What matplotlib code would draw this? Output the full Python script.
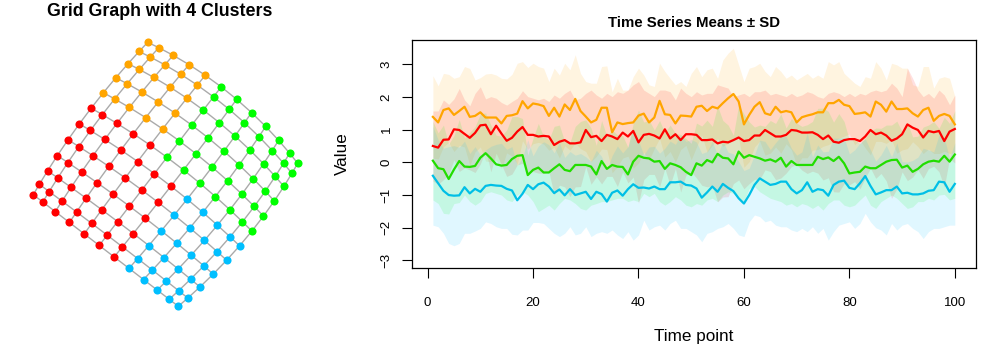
import numpy as np
import matplotlib
matplotlib.use("Agg")
import matplotlib.pyplot as plt

plt.rcParams['font.family'] = ['Liberation Sans', 'DejaVu Sans']

# ---- grid graph: 12 x 12 lattice, cluster of each node (row i, column j) ----
grid_n = 12
cluster_names = ['orange', 'red', 'green', 'blue']
node_colors = {'orange': '#FFA500', 'red': '#FF0000', 'green': '#00FF00', 'blue': '#00BFFF'}

def cluster_of(i, j):
    if i <= 4 and j <= 4:
        return 'orange'
    if i <= 5 and j >= 5:
        return 'green'
    if i >= 6 and j >= 7:
        return 'blue'
    return 'red'

# ---- time series (t = 1..100): means and the visible band edge of each ----
time_points = np.arange(1, 101)

orange_mean = [1.39, 1.22, 1.60, 1.65, 1.45, 1.57, 1.70, 1.39, 1.42, 1.53, 1.37, 1.37, 1.37, 1.19, 1.42, 1.44, 1.49, 1.87, 1.65,
               1.80, 1.77, 1.72, 1.42, 1.67, 1.40, 1.77, 1.60, 1.94, 1.57, 1.40, 1.22, 1.30, 1.67, 1.67, 0.92, 1.22, 1.17, 1.20, 1.22, 1.43,
               1.49, 1.22, 1.37, 1.88, 1.47, 1.45, 1.19, 1.43, 1.42, 1.40, 1.70, 1.73, 1.57, 1.70, 1.65, 1.81, 1.96, 2.09, 1.86, 1.16,
               1.45, 1.70, 1.84, 1.50, 1.45, 1.70, 1.53, 1.57, 1.53, 1.22, 1.38, 1.43, 1.47, 1.53, 1.53, 1.81, 1.81, 1.91, 1.76, 1.72, 1.48,
               1.50, 1.53, 1.40, 1.86, 1.76, 1.55, 1.86, 1.63, 1.63, 1.65, 1.50, 1.40, 1.60, 1.67, 1.27, 1.42, 1.48, 1.42, 1.16]
red_mean = [0.50, 0.45, 0.69, 0.70, 1.01, 0.99, 0.87, 0.75, 0.90, 1.13, 1.15, 0.86, 1.12, 0.88, 0.66, 0.75, 0.94, 1.08, 0.84,
            0.84, 0.79, 0.81, 0.79, 0.53, 0.63, 0.68, 0.58, 0.58, 0.61, 0.99, 0.77, 0.81, 0.65, 0.84, 0.79, 0.71, 0.91, 0.79, 0.96, 0.61,
            0.84, 0.87, 0.82, 0.73, 1.01, 0.73, 0.86, 0.68, 0.86, 0.86, 0.84, 0.68, 0.68, 0.70, 0.58, 0.63, 0.61, 0.68, 0.76, 0.65,
            0.68, 0.82, 0.82, 0.99, 0.89, 0.79, 0.79, 0.84, 0.99, 0.97, 0.91, 0.91, 0.92, 0.84, 0.71, 0.82, 0.63, 0.60, 0.68, 0.71, 0.71,
            0.65, 0.79, 0.99, 0.86, 0.91, 0.82, 0.66, 0.73, 0.86, 1.16, 1.06, 0.99, 0.76, 0.96, 0.92, 0.96, 0.65, 0.94, 1.02]
green_mean = [0.05, -0.18, -0.21, -0.51, -0.22, 0.04, -0.13, -0.14, -0.11, 0.14, 0.28, 0.12, -0.06, -0.10, -0.08, 0.10, 0.20, 0.22, -0.39,
              -0.23, -0.16, -0.31, -0.31, -0.18, -0.06, -0.23, -0.27, -0.08, -0.08, -0.08, -0.13, -0.37, 0.04, -0.20, -0.08, -0.13, -0.14, -0.37, 0.02, 0.20,
              0.14, 0.12, 0.02, 0.04, -0.20, -0.03, -0.08, -0.15, -0.29, -0.39, -0.03, -0.10, 0.07, 0.00, 0.26, 0.14, 0.12, -0.06, 0.33, 0.14,
              0.22, 0.17, 0.12, 0.05, 0.09, 0.02, 0.14, -0.13, 0.04, -0.08, -0.08, -0.08, -0.08, 0.17, 0.10, 0.15, 0.04, 0.17, -0.03, -0.34, -0.31,
              -0.29, -0.13, -0.18, -0.18, -0.08, 0.02, 0.07, 0.08, -0.16, -0.10, -0.29, -0.20, -0.06, 0.02, 0.05, 0.02, 0.20, 0.02, 0.24]
blue_mean = [-0.41, -0.64, -0.87, -1.00, -1.02, -1.01, -0.76, -0.95, -0.81, -0.90, -0.72, -0.69, -0.71, -0.72, -0.81, -0.86, -1.16, -0.96, -0.69,
             -0.82, -0.67, -0.62, -0.74, -0.94, -0.83, -1.01, -0.82, -1.00, -0.95, -0.90, -1.12, -0.90, -0.97, -1.20, -0.93, -0.86, -1.02, -0.82, -0.67, -0.78,
             -0.77, -0.80, -0.74, -0.82, -0.82, -0.61, -0.61, -0.59, -0.69, -0.71, -0.80, -1.08, -0.92, -0.74, -0.90, -0.66, -0.78, -0.88, -1.10, -1.26,
             -1.00, -0.69, -0.49, -0.59, -0.69, -0.66, -0.59, -0.59, -0.82, -0.95, -0.85, -0.61, -0.90, -0.82, -0.85, -1.02, -0.69, -0.59, -0.56, -0.78, -0.82,
             -0.64, -0.42, -0.72, -0.98, -0.92, -0.85, -0.85, -0.74, -0.95, -0.93, -0.98, -0.98, -0.95, -0.87, -0.85, -0.59, -0.61, -0.90, -0.66]

# upper edge (mean + sd) for orange and red, lower edge (mean - sd) for green and blue
orange_upper = [2.65, 2.34, 2.72, 2.69, 2.57, 2.62, 2.93, 2.87, 2.52, 2.59, 2.70, 2.72, 2.67, 2.57, 2.55, 2.69, 3.03, 3.08, 2.90,
                3.03, 2.93, 2.88, 2.47, 2.88, 2.67, 3.03, 2.83, 3.29, 2.72, 2.47, 2.42, 2.42, 2.93, 2.95, 2.16, 2.57, 2.21, 2.21, 2.62, 2.88,
                2.67, 2.37, 2.32, 3.03, 2.78, 2.57, 2.37, 2.47, 2.32, 2.72, 2.93, 2.62, 2.83, 2.88, 2.57, 3.13, 3.34, 3.49, 2.98, 2.47,
                2.88, 2.93, 3.03, 2.78, 2.62, 2.93, 2.78, 2.57, 2.67, 2.52, 2.62, 2.72, 2.57, 2.67, 2.57, 3.08, 2.98, 3.08, 2.72, 2.57, 2.42,
                2.32, 2.62, 2.57, 3.08, 2.88, 2.52, 3.03, 2.98, 2.88, 2.88, 2.37, 2.32, 2.93, 2.93, 2.27, 2.57, 2.62, 2.57, 2.01]
red_upper = [1.57, 1.57, 1.91, 1.77, 1.94, 2.26, 1.91, 1.73, 2.11, 2.31, 1.94, 2.01, 1.96, 1.83, 1.75, 1.86, 1.96, 2.19, 2.01,
             1.96, 1.91, 1.96, 1.86, 2.06, 1.96, 2.11, 2.21, 1.91, 1.96, 2.11, 2.21, 2.06, 1.96, 2.11, 2.01, 2.16, 2.11, 2.21, 2.37, 2.47,
             2.21, 2.11, 2.01, 2.21, 2.21, 2.16, 1.91, 2.27, 2.11, 2.01, 2.16, 2.06, 2.11, 2.11, 2.37, 2.32, 2.27, 2.01, 2.06, 2.11,
             2.01, 2.16, 2.16, 2.21, 2.06, 2.11, 2.06, 2.01, 2.11, 2.01, 2.06, 2.16, 2.11, 2.01, 1.96, 2.11, 2.16, 2.11, 2.01, 2.11, 2.01,
             2.11, 2.06, 2.16, 2.21, 2.16, 2.21, 2.42, 2.27, 2.01, 2.88, 2.57, 2.21, 2.01, 2.11, 1.96, 2.21, 2.06, 1.76, 2.06]
green_lower = [-1.15, -1.26, -1.56, -1.58, -1.26, -1.23, -1.00, -1.20, -1.31, -1.20, -0.95, -0.90, -0.95, -1.00, -1.15, -1.20, -1.00, -0.90, -1.00,
               -1.20, -1.51, -1.41, -1.31, -1.46, -1.26, -1.10, -1.15, -1.26, -1.41, -1.46, -1.31, -1.26, -1.20, -1.20, -1.15, -1.10, -1.10, -1.20, -1.15, -1.20,
               -0.95, -1.05, -0.95, -1.20, -1.31, -1.20, -1.05, -1.15, -1.31, -1.36, -1.26, -1.31, -1.15, -1.10, -1.20, -1.00, -0.90, -0.95, -1.10, -1.20,
               -0.80, -0.74, -0.90, -1.00, -1.10, -1.15, -1.20, -1.31, -1.26, -1.36, -1.26, -1.31, -1.41, -1.31, -1.46, -1.26, -1.15, -1.15, -1.31, -1.36, -1.31,
               -1.15, -1.00, -1.31, -1.41, -1.20, -1.10, -1.00, -1.10, -1.26, -1.41, -1.36, -1.20, -1.20, -1.10, -1.15, -1.00, -0.98, -1.15, -1.10]
blue_lower = [-1.92, -1.97, -2.17, -2.48, -2.55, -2.48, -2.17, -2.17, -2.10, -2.02, -1.82, -1.87, -1.97, -2.02, -2.02, -2.20, -2.22, -2.07, -2.07,
              -1.84, -1.84, -1.87, -2.02, -2.17, -2.27, -2.17, -1.97, -2.22, -2.17, -1.97, -2.27, -2.17, -2.12, -2.17, -2.07, -2.22, -2.33, -2.12, -2.38, -2.22,
              -1.77, -2.07, -1.97, -1.92, -2.07, -1.87, -1.77, -2.02, -2.02, -2.12, -2.22, -2.43, -2.17, -2.12, -2.02, -1.97, -1.87, -2.02, -2.22, -2.27,
              -1.82, -1.61, -1.66, -1.82, -1.77, -1.92, -1.97, -1.97, -2.07, -2.12, -2.02, -2.12, -1.97, -2.17, -2.02, -2.38, -2.12, -1.92, -1.87, -1.82, -2.02,
              -1.87, -1.56, -1.82, -2.00, -2.07, -2.22, -1.87, -2.07, -1.92, -1.87, -2.02, -2.12, -2.33, -2.12, -2.02, -2.02, -1.97, -1.92, -1.92]

line_colors = {'orange': '#FFA500', 'red': '#FF0000', 'green': '#22DD00', 'blue': '#00BFE6'}


def lattice_param(n, b=0.52, p=3.33):
	# force-layout look: nodes squeezed towards the border of the lattice
	mid = (np.arange(n - 1) + 0.5) / (n - 1)
	w = 1 - b * np.abs(2 * mid - 1) ** p
	return np.concatenate([[0], np.cumsum(w)]) / w.sum()


def quad_basis(s):
	return np.array([2 * (s - 0.5) * (s - 1), 4 * s * (1 - s), 2 * s * (s - 0.5)])


def main():
	fig = plt.figure(figsize=(9.96, 3.49), dpi=100)

	# ---------------- left: grid graph ----------------
	axg = fig.add_axes([0, 0, 330 / 996, 1])
	axg.set_xlim(0, 330)
	axg.set_ylim(349, 0)
	axg.axis('off')

	# layout shape: 3x3 control points (row param u: 0, .5, 1 ; column param v: 0, .5, 1)
	shape_x = np.array([[147.7, 229.0, 297.7],
						[85.2, 169.0, 245.8],
						[33.3, 106.7, 178.3]])
	shape_y = np.array([[42.3, 93.0, 163.3],
						[116.0, 171.7, 238.5],
						[194.7, 251.2, 306.3]])
	par = lattice_param(grid_n)

	def pos(i, j):
		bu = quad_basis(par[i])
		bv = quad_basis(par[j])
		return np.array([bu @ shape_x @ bv, bu @ shape_y @ bv])

	for i in range(grid_n):
		for j in range(grid_n):
			p = pos(i, j)
			if i + 1 < grid_n:
				q = pos(i + 1, j)
				axg.plot([p[0], q[0]], [p[1], q[1]], color='#AAAAAA', lw=1.0, zorder=1)
			if j + 1 < grid_n:
				q = pos(i, j + 1)
				axg.plot([p[0], q[0]], [p[1], q[1]], color='#AAAAAA', lw=1.0, zorder=1)

	for name in cluster_names:
		pts = np.array([pos(i, j) for i in range(grid_n) for j in range(grid_n) if cluster_of(i, j) == name])
		axg.scatter(pts[:, 0], pts[:, 1], s=34, color=node_colors[name], linewidths=0, zorder=2)

	fig.text(160 / 996, 1 - 11 / 349, 'Grid Graph with 4 Clusters', ha='center', va='center',
			 fontsize=12.8, fontweight='bold')

	# ---------------- right: time series ----------------
	ax = fig.add_axes([412 / 996, 1 - 268.3 / 349, (975.7 - 412) / 996, (268.3 - 39.7) / 349])
	series = [
		('orange', np.array(orange_mean), np.array(orange_upper) - np.array(orange_mean)),
		('red', np.array(red_mean), np.array(red_upper) - np.array(red_mean)),
		('green', np.array(green_mean), np.array(green_mean) - np.array(green_lower)),
		('blue', np.array(blue_mean), np.array(blue_mean) - np.array(blue_lower)),
	]
	for name, m, sd in series:
		ax.fill_between(time_points, m - sd, m + sd, color=node_colors[name], alpha=0.12, linewidth=0)
	for name, m, sd in series:
		ax.plot(time_points, m, color=line_colors[name], lw=1.6)

	ax.set_xlim(-2.96, 103.96)
	ax.set_ylim(-3.24, 3.75)
	ax.set_xticks([0, 20, 40, 60, 80, 100])
	ax.set_yticks([-3, -2, -1, 0, 1, 2, 3])
	ax.tick_params(direction='out', length=7, width=0.8, labelsize=9.5)
	ax.tick_params(axis='x', pad=14)
	ax.tick_params(axis='y', pad=7)
	for lab in ax.get_yticklabels():
		lab.set_rotation(90)
		lab.set_va('center')
	for s in ax.spines.values():
		s.set_linewidth(0.9)
	ax.set_xlabel('Time point', fontsize=12.3, labelpad=14)
	ax.set_ylabel('Value', fontsize=12.3, labelpad=22)
	ax.set_title('Time Series Means \u00b1 SD', fontsize=10.8, fontweight='bold', pad=9)

	fig.savefig('out.png', dpi=100)


if __name__ == "__main__":
	main()
